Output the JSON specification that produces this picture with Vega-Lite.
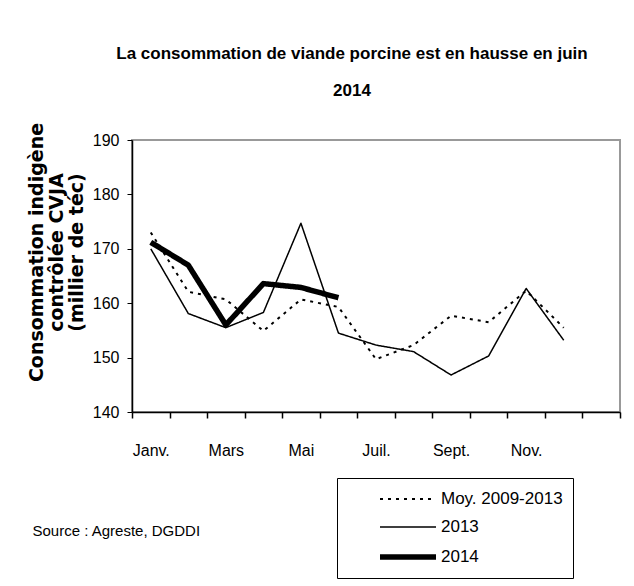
{
  "$schema": "https://vega.github.io/schema/vega-lite/v6.json",
  "autosize": "none",
  "width": 488,
  "height": 272,
  "padding": {"left": 132, "top": 140, "right": 14, "bottom": 174},
  "background": "white",
  "title": {
    "text": ["La consommation de viande porcine est en hausse en juin", "2014"],
    "anchor": "middle",
    "frame": "group",
    "dx": -24,
    "offset": 22,
    "font": "Liberation Sans",
    "fontSize": 17,
    "fontWeight": "bold",
    "lineHeight": 37,
    "color": "black"
  },
  "config": {
    "view": {"stroke": "#999999", "strokeWidth": 2},
    "font": "Liberation Sans"
  },
  "data": {
    "values": [
      {"mois": "Janv.", "serie": "Moy. 2009-2013", "valeur": 173.0},
      {"mois": "Févr.", "serie": "Moy. 2009-2013", "valeur": 162.1},
      {"mois": "Mars", "serie": "Moy. 2009-2013", "valeur": 160.7},
      {"mois": "Avr.", "serie": "Moy. 2009-2013", "valeur": 154.9},
      {"mois": "Mai", "serie": "Moy. 2009-2013", "valeur": 160.7},
      {"mois": "Juin", "serie": "Moy. 2009-2013", "valeur": 159.3},
      {"mois": "Juil.", "serie": "Moy. 2009-2013", "valeur": 149.7},
      {"mois": "Août", "serie": "Moy. 2009-2013", "valeur": 152.3},
      {"mois": "Sept.", "serie": "Moy. 2009-2013", "valeur": 157.7},
      {"mois": "Oct.", "serie": "Moy. 2009-2013", "valeur": 156.5},
      {"mois": "Nov.", "serie": "Moy. 2009-2013", "valeur": 162.3},
      {"mois": "Déc.", "serie": "Moy. 2009-2013", "valeur": 155.5},
      {"mois": "Janv.", "serie": "2013", "valeur": 170.0},
      {"mois": "Févr.", "serie": "2013", "valeur": 158.1},
      {"mois": "Mars", "serie": "2013", "valeur": 155.5},
      {"mois": "Avr.", "serie": "2013", "valeur": 158.3},
      {"mois": "Mai", "serie": "2013", "valeur": 174.7},
      {"mois": "Juin", "serie": "2013", "valeur": 154.5},
      {"mois": "Juil.", "serie": "2013", "valeur": 152.3},
      {"mois": "Août", "serie": "2013", "valeur": 151.1},
      {"mois": "Sept.", "serie": "2013", "valeur": 146.8},
      {"mois": "Oct.", "serie": "2013", "valeur": 150.3},
      {"mois": "Nov.", "serie": "2013", "valeur": 162.7},
      {"mois": "Déc.", "serie": "2013", "valeur": 153.2},
      {"mois": "Janv.", "serie": "2014", "valeur": 171.2},
      {"mois": "Févr.", "serie": "2014", "valeur": 167.0},
      {"mois": "Mars", "serie": "2014", "valeur": 156.0},
      {"mois": "Avr.", "serie": "2014", "valeur": 163.6},
      {"mois": "Mai", "serie": "2014", "valeur": 162.9},
      {"mois": "Juin", "serie": "2014", "valeur": 161.0}
    ]
  },
  "mark": {"type": "line", "color": "black", "strokeCap": "butt", "strokeJoin": "round"},
  "encoding": {
    "x": {
      "field": "mois",
      "type": "ordinal",
      "bandPosition": 0.5,
      "scale": {
        "type": "band",
        "domain": ["Janv.", "Févr.", "Mars", "Avr.", "Mai", "Juin", "Juil.", "Août", "Sept.", "Oct.", "Nov.", "Déc.", "-"],
        "paddingInner": 0,
        "paddingOuter": 0
      },
      "axis": {
        "title": "Source : Agreste, DGDDI",
        "titleX": -100,
        "titleY": 118,
        "titleAlign": "left",
        "titleAnchor": null,
        "titleBaseline": "middle",
        "titleFont": "Liberation Sans",
        "titleFontWeight": "normal",
        "titleFontSize": 15,
        "titleColor": "black",
        "labelAngle": 0,
        "labelExpr": "indexof(['Janv.','Mars','Mai','Juil.','Sept.','Nov.'], datum.value) >= 0 ? datum.label : ''",
        "tickBand": "extent",
        "labelPadding": 24,
        "labelFontSize": 16,
        "labelColor": "black",
        "domainColor": "black",
        "domainWidth": 1.5,
        "tickColor": "black",
        "tickWidth": 1.5,
        "tickSize": 6
      }
    },
    "y": {
      "field": "valeur",
      "type": "quantitative",
      "scale": {"domain": [140, 190], "zero": false, "nice": false},
      "axis": {
        "title": ["Consommation indigène", "contrôlée CVJA", "(millier de téc)"],
        "titleFont": "DejaVu Sans",
        "titleFontSize": 19,
        "titleFontWeight": "bold",
        "titleLineHeight": 20,
        "titleColor": "black",
        "titlePadding": 6,
        "titleY": 112,
        "values": [140, 150, 160, 170, 180, 190],
        "grid": false,
        "labelFontSize": 16,
        "labelColor": "black",
        "labelPadding": 8,
        "domainColor": "black",
        "domainWidth": 1.5,
        "tickColor": "black",
        "tickWidth": 1,
        "tickSize": 5
      }
    },
    "strokeDash": {
      "field": "serie",
      "type": "ordinal",
      "scale": {"domain": ["Moy. 2009-2013", "2013", "2014"], "range": [[3, 5], [1, 0], [1, 0]]},
      "legend": {
        "title": null,
        "orient": "none",
        "legendX": 205,
        "legendY": 338,
        "strokeColor": "black",
        "padding": 10,
        "symbolType": "M-4.6,0H1",
        "symbolSize": 400,
        "symbolOffset": 66,
        "symbolStrokeColor": "black",
        "labelFontSize": 17,
        "labelColor": "black",
        "labelOffset": 2,
        "rowPadding": 9,
        "labelLimit": 200
      }
    },
    "strokeWidth": {
      "field": "serie",
      "type": "ordinal",
      "scale": {"type": "ordinal", "domain": ["Moy. 2009-2013", "2013", "2014"], "range": [2, 1.5, 5.5]},
      "legend": {
        "title": null,
        "orient": "none",
        "legendX": 205,
        "legendY": 338,
        "strokeColor": "black",
        "padding": 10,
        "symbolType": "M-4.6,0H1",
        "symbolSize": 400,
        "symbolOffset": 66,
        "symbolStrokeColor": "black",
        "labelFontSize": 17,
        "labelColor": "black",
        "labelOffset": 2,
        "rowPadding": 9,
        "labelLimit": 200
      }
    }
  }
}
